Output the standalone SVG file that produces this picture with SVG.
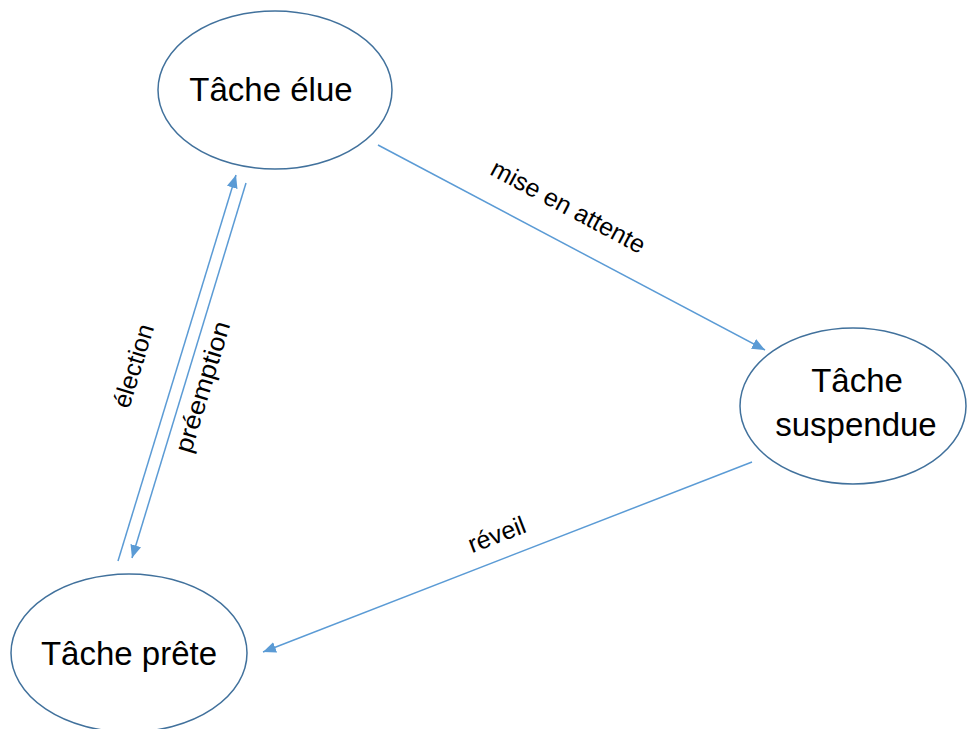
<svg xmlns="http://www.w3.org/2000/svg" width="967" height="729" viewBox="0 0 967 729">
<style>
.node{fill:#fff;stroke:#41719C;stroke-width:1.5}
.nt{font-family:"Liberation Sans",Arial,sans-serif;font-size:33px;fill:#000;text-anchor:middle}
.lt{font-family:"Liberation Sans",Arial,sans-serif;font-size:25px;fill:#000;text-anchor:middle}
.edge{stroke:#5B9BD5;stroke-width:1.5;fill:none;marker-end:url(#ah)}
</style>
<defs>
<marker id="ah" markerUnits="userSpaceOnUse" markerWidth="13" markerHeight="11" refX="13" refY="5.5" orient="auto">
<path d="M0,0 L13,5.5 L0,11 z" fill="#5B9BD5"/>
</marker>
</defs>
<rect width="967" height="729" fill="#fff"/>
<g id="connectors">
<line class="edge" x1="378" y1="145" x2="765" y2="350"/>
<line class="edge" x1="752" y1="462" x2="263" y2="652"/>
<line class="edge" x1="118" y1="561" x2="236" y2="175"/>
<line class="edge" x1="246" y1="183" x2="132" y2="558"/>
<text class="lt" transform="translate(568,207) rotate(28)" x="0" y="8">mise en attente</text>
<text class="lt" transform="translate(497,535) rotate(-21)" x="0" y="8">réveil</text>
<text class="lt" transform="translate(134,366) rotate(-73)" x="0" y="8">élection</text>
<text class="lt" transform="translate(203,387) rotate(-73)" x="0" y="8" textLength="136" lengthAdjust="spacingAndGlyphs">préemption</text>
</g>
<g id="n-elue">
<ellipse class="node" cx="275" cy="90" rx="117" ry="79"/>
<text class="nt" x="271" y="101">Tâche élue</text>
</g>
<g id="n-suspendue">
<ellipse class="node" cx="853" cy="406" rx="113" ry="78"/>
<text class="nt" x="857" y="392">Tâche</text>
<text class="nt" x="856" y="436">suspendue</text>
</g>
<g id="n-prete">
<ellipse class="node" cx="129" cy="653" rx="118" ry="79"/>
<text class="nt" x="129" y="665">Tâche prête</text>
</g>
</svg>
